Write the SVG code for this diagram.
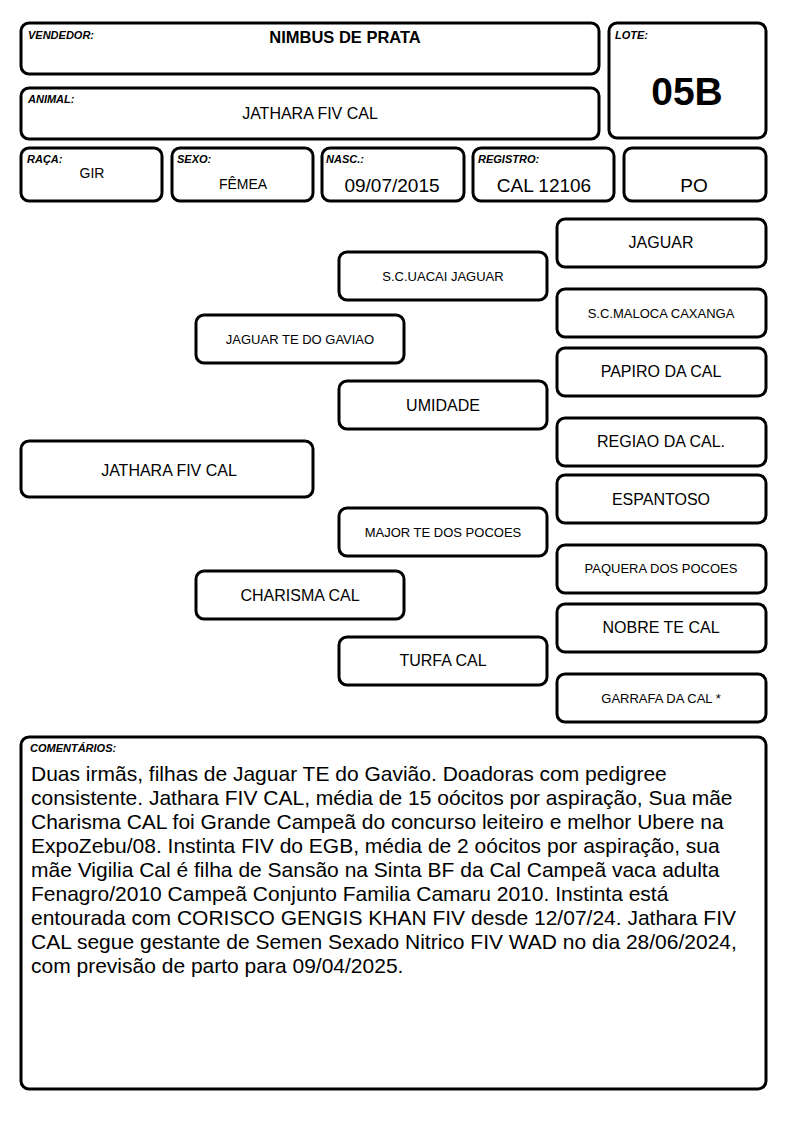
<svg xmlns="http://www.w3.org/2000/svg" width="794" height="1123" viewBox="0 0 794 1123">
<style>
.b{fill:#fff;stroke:#000;stroke-width:3}
.t{font-family:"Liberation Sans",Arial,sans-serif;fill:#000}
.lab{font-family:"Liberation Sans",Arial,sans-serif;font-size:11px;font-weight:bold;font-style:italic;fill:#000}
.c{text-anchor:middle}
.p16{font-size:16px}
.p13{font-size:13px}
.cm{font-family:"Liberation Sans",Arial,sans-serif;font-size:21px;fill:#000}
</style>
<rect width="794" height="1123" fill="#fff"/>
<g id="vendedor"><rect class="b" x="21" y="23" width="578" height="51" rx="8"/><text class="lab" x="28" y="39">VENDEDOR:</text><text class="t c" x="345" y="43" font-size="16.5" font-weight="bold">NIMBUS DE PRATA</text></g>
<g id="lote"><rect class="b" x="609" y="23" width="157" height="115" rx="8"/><text class="lab" x="615" y="39">LOTE:</text><text class="t c" x="687" y="105" font-size="39" font-weight="bold">05B</text></g>
<g id="animal"><rect class="b" x="21" y="88" width="578" height="51" rx="8"/><text class="lab" x="28" y="103">ANIMAL:</text><text class="t c p16" x="310" y="119">JATHARA FIV CAL</text></g>
<g id="raca"><rect class="b" x="21" y="148" width="141" height="53" rx="8"/><text class="lab" x="27" y="163">RAÇA:</text><text class="t c" x="92" y="178" font-size="14">GIR</text></g>
<g id="sexo"><rect class="b" x="172" y="148" width="141" height="53" rx="8"/><text class="lab" x="177" y="163">SEXO:</text><text class="t c" x="243" y="189" font-size="14">FÊMEA</text></g>
<g id="nasc"><rect class="b" x="322" y="148" width="142" height="53" rx="8"/><text class="lab" x="326" y="163">NASC.:</text><text class="t c" x="392" y="192" font-size="19">09/07/2015</text></g>
<g id="registro"><rect class="b" x="473" y="148" width="141" height="53" rx="8"/><text class="lab" x="478" y="163">REGISTRO:</text><text class="t c" x="544" y="192" font-size="19">CAL 12106</text></g>
<g id="po"><rect class="b" x="624" y="148" width="142" height="53" rx="8"/><text class="t c" x="694" y="192" font-size="19">PO</text></g>

<g id="n-jaguar"><rect class="b" x="557" y="219" width="209" height="48" rx="8"/><text class="t c p16" x="661" y="248">JAGUAR</text></g>
<g id="n-uacai"><rect class="b" x="339" y="252" width="208" height="48" rx="8"/><text class="t c p13" x="443" y="281">S.C.UACAI JAGUAR</text></g>
<g id="n-maloca"><rect class="b" x="557" y="289" width="209" height="48" rx="8"/><text class="t c p13" x="661" y="318">S.C.MALOCA CAXANGA</text></g>
<g id="n-gaviao"><rect class="b" x="196" y="315" width="208" height="48" rx="8"/><text class="t c p13" x="300" y="344">JAGUAR TE DO GAVIAO</text></g>
<g id="n-papiro"><rect class="b" x="557" y="348" width="209" height="48" rx="8"/><text class="t c p16" x="661" y="377">PAPIRO DA CAL</text></g>
<g id="n-umidade"><rect class="b" x="339" y="381" width="208" height="48" rx="8"/><text class="t c p16" x="443" y="411">UMIDADE</text></g>
<g id="n-regiao"><rect class="b" x="557" y="418" width="209" height="48" rx="8"/><text class="t c p16" x="661" y="447">REGIAO DA CAL.</text></g>
<g id="n-jathara"><rect class="b" x="21" y="441" width="292" height="56" rx="8"/><text class="t c p16" x="169" y="476">JATHARA FIV CAL</text></g>
<g id="n-espantoso"><rect class="b" x="557" y="475" width="209" height="48" rx="8"/><text class="t c p16" x="661" y="505">ESPANTOSO</text></g>
<g id="n-major"><rect class="b" x="339" y="508" width="208" height="48" rx="8"/><text class="t c p13" x="443" y="537">MAJOR TE DOS POCOES</text></g>
<g id="n-paquera"><rect class="b" x="557" y="545" width="209" height="48" rx="8"/><text class="t c p13" x="661" y="573">PAQUERA DOS POCOES</text></g>
<g id="n-charisma"><rect class="b" x="196" y="571" width="208" height="48" rx="8"/><text class="t c p16" x="300" y="601">CHARISMA CAL</text></g>
<g id="n-nobre"><rect class="b" x="557" y="604" width="209" height="48" rx="8"/><text class="t c p16" x="661" y="633">NOBRE TE CAL</text></g>
<g id="n-turfa"><rect class="b" x="339" y="637" width="208" height="48" rx="8"/><text class="t c p16" x="443" y="666">TURFA CAL</text></g>
<g id="n-garrafa"><rect class="b" x="557" y="674" width="209" height="48" rx="8"/><text class="t c p13" x="661" y="703">GARRAFA DA CAL *</text></g>
<g id="connectors"></g>

<g id="comentarios"><rect class="b" x="21" y="737" width="745" height="352" rx="8"/><text class="lab" x="30" y="752">COMENTÁRIOS:</text>
<text class="cm" x="31" y="781">Duas irmãs, filhas de Jaguar TE do Gavião. Doadoras com pedigree</text>
<text class="cm" x="31" y="805">consistente. Jathara FIV CAL, média de 15 oócitos por aspiração, Sua mãe</text>
<text class="cm" x="31" y="829">Charisma CAL foi Grande Campeã do concurso leiteiro e melhor Ubere na</text>
<text class="cm" x="31" y="853">ExpoZebu/08. Instinta FIV do EGB, média de 2 oócitos por aspiração, sua</text>
<text class="cm" x="31" y="877">mãe Vigilia Cal é filha de Sansão na Sinta BF da Cal Campeã vaca adulta</text>
<text class="cm" x="31" y="901">Fenagro/2010 Campeã Conjunto Familia Camaru 2010. Instinta está</text>
<text class="cm" x="31" y="925">entourada com CORISCO GENGIS KHAN FIV desde 12/07/24. Jathara FIV</text>
<text class="cm" x="31" y="949">CAL segue gestante de Semen Sexado Nitrico FIV WAD no dia 28/06/2024,</text>
<text class="cm" x="31" y="973">com previsão de parto para 09/04/2025.</text>
</g>
</svg>
